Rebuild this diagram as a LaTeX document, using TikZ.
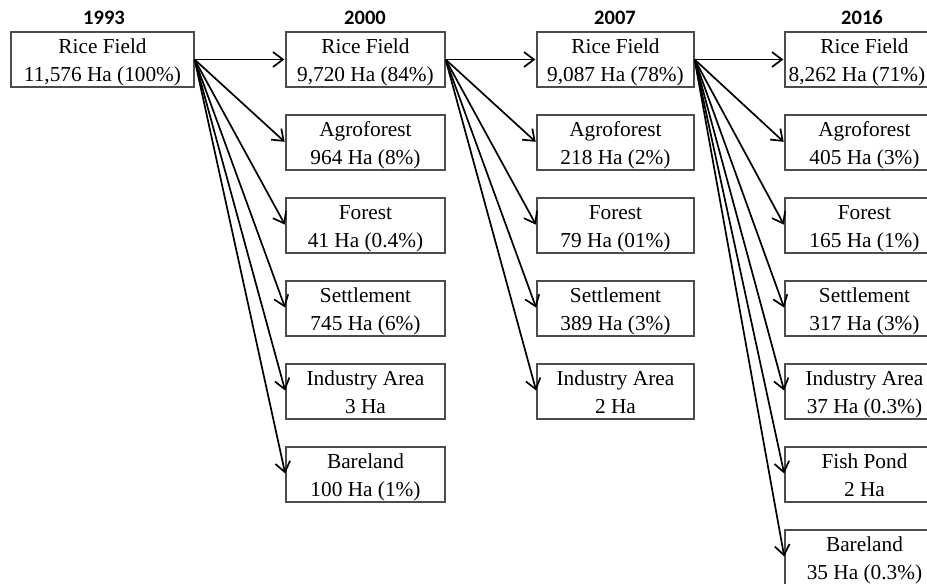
\documentclass[tikz,border=0pt]{standalone}
\usepackage{fontspec}
\setmainfont{Liberation Serif}
\newfontfamily\titlefont{Carlito}
\usetikzlibrary{arrows.meta}
\newcommand\myup{\rule{0pt}{20pt}}
\newcommand\mydn{\rule[-5pt]{0pt}{5pt}}
\begin{document}
\begin{tikzpicture}[x=1pt,y=-1pt,
  box/.style={draw=black!70, line width=1.2pt, rectangle, minimum height=55pt, inner sep=0pt, align=center, font=\fontsize{21.3}{28}\selectfont},
  wbox/.style={box, minimum width=159pt},
  year/.style={font=\titlefont\bfseries\fontsize{20.5}{24}\selectfont, inner sep=0pt},
  flow/.style={line width=1.7pt, -{Straight Barb[length=10pt,width=15pt,line width=1.7pt]}, shorten >=1pt}
]
\useasboundingbox (0,0) rectangle (927,584);
% titles
\node[year] (y1993) at (104,18) {1993};
\node[year] (y2000) at (365,18) {2000};
\node[year] (y2007) at (615,18) {2007};
\node[year] (y2016) at (862,18) {2016};
% 1993
\node[box, minimum width=183pt] (r93) at (102.5,59.5) {\myup Rice Field\\11,576 Ha (100\%)\mydn};
% 2000
\node[wbox] (r00) at (365.5,59.5) {\myup Rice Field\\9,720 Ha (84\%)\mydn};
\node[wbox] (a00) at (365.5,142.5) {\myup Agroforest\\964 Ha (8\%)\mydn};
\node[wbox] (f00) at (365.5,225.5) {\myup Forest\\41 Ha (0.4\%)\mydn};
\node[wbox] (s00) at (365.5,308.5) {\myup Settlement\\745 Ha (6\%)\mydn};
\node[wbox] (i00) at (365.5,391.5) {\myup Industry Area\\3 Ha\mydn};
\node[wbox] (b00) at (365.5,474.5) {\myup Bareland\\100 Ha (1\%)\mydn};
% 2007
\node[box, minimum width=157pt] (r07) at (615.5,59.5) {\myup Rice Field\\9,087 Ha (78\%)\mydn};
\node[box, minimum width=157pt] (a07) at (615.5,142.5) {\myup Agroforest\\218 Ha (2\%)\mydn};
\node[box, minimum width=157pt] (f07) at (615.5,225.5) {\myup Forest\\79 Ha (01\%)\mydn};
\node[box, minimum width=157pt] (s07) at (615.5,308.5) {\myup Settlement\\389 Ha (3\%)\mydn};
\node[box, minimum width=157pt] (i07) at (615.5,391.5) {\myup Industry Area\\2 Ha\mydn};
% 2016
\node[wbox] (r16) at (864.5,59.5) {\myup Rice Field\\\hspace*{-15pt}8,262 Ha (71\%)\mydn};
\node[wbox] (a16) at (864.5,142.5) {\myup Agroforest\\405 Ha (3\%)\mydn};
\node[wbox] (f16) at (864.5,225.5) {\myup Forest\\165 Ha (1\%)\mydn};
\node[wbox] (s16) at (864.5,308.5) {\myup Settlement\\317 Ha (3\%)\mydn};
\node[wbox] (i16) at (864.5,391.5) {\myup Industry Area\\37 Ha (0.3\%)\mydn};
\node[wbox] (p16) at (864.5,474.5) {\myup Fish Pond\\2 Ha\mydn};
\node[wbox] (b16) at (864.5,557.5) {\myup Bareland\\35 Ha (0.3\%)\mydn};
% arrows 1993 -> 2000
\foreach \t in {r00,a00,f00,s00,i00,b00} \draw[flow] (r93.east) -- (\t.west);
% arrows 2000 -> 2007
\foreach \t in {r07,a07,f07,s07,i07} \draw[flow] (r00.east) -- (\t.west);
% arrows 2007 -> 2016
\foreach \t in {r16,a16,f16,s16,i16,p16,b16} \draw[flow] (r07.east) -- (\t.west);
\end{tikzpicture}
\end{document}
